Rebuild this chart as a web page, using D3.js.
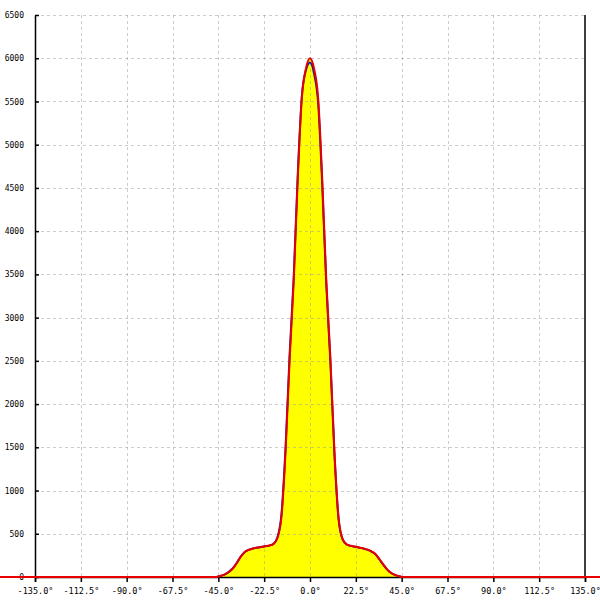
<!DOCTYPE html>
<html><head><meta charset="utf-8">
<script src="https://cdn.jsdelivr.net/npm/d3@7"></script>
<style>body{margin:0;background:#fff}svg{display:block}</style>
</head><body>
<svg id="c" width="600" height="600"></svg>
<script>
// angles (degrees)
const angles = [-180, -50, -48, -46, -44, -42, -40, -38, -36, -34, -32, -30, -28, -26, -24, -22, -20, -18, -16, -14, -12, -10, -8, -6, -4, -2, 0, 2, 4, 6, 8, 10, 12, 14, 16, 18, 20, 22, 24, 26, 28, 30, 32, 34, 36, 38, 40, 42, 44, 46, 48, 50, 180];
// measured series (red) and model series (blue)
const seriesRed = [0, 0, 0, 0, 12, 28, 55, 95, 160, 235, 290, 315, 330, 340, 348, 356, 364, 380, 450, 700, 1450, 2520, 3420, 4620, 5550, 5880, 6000, 5880, 5540, 4600, 3430, 2540, 1450, 690, 440, 378, 362, 352, 342, 332, 318, 298, 270, 210, 145, 85, 45, 22, 8, 0, 0, 0, 0];
const seriesBlue = [0, 0, 0, 0, 12, 28, 57, 98, 162, 236, 290, 314, 329, 339, 347, 355, 363, 382, 460, 730, 1500, 2580, 3470, 4660, 5560, 5860, 5950, 5820, 5480, 4540, 3380, 2490, 1420, 675, 435, 376, 360, 350, 340, 330, 316, 296, 266, 205, 140, 82, 43, 21, 7, 0, 0, 0, 0];
const xTicks = [-135, -112.5, -90, -67.5, -45, -22.5, 0, 22.5, 45, 67.5, 90, 112.5, 135];
const yTicks = [0, 500, 1000, 1500, 2000, 2500, 3000, 3500, 4000, 4500, 5000, 5500, 6000, 6500];

const svg = d3.select('#c');
const L = 35, R = 585, T = 15, B = 577;
const x = d3.scaleLinear().domain([-135, 135]).range([L, R]);
const y = d3.scaleLinear().domain([0, 6500]).range([B, T]);
const font = '"DejaVu Sans Mono", monospace';

const red = angles.map((a, i) => [a, seriesRed[i]]);
const blue = angles.map((a, i) => [a, seriesBlue[i]]);

const area = d3.area().x(d => x(d[0])).y0(y(0)).y1(d => y(d[1])).curve(d3.curveMonotoneX);
const line = d3.line().x(d => x(d[0])).y(d => y(d[1])).curve(d3.curveMonotoneX);

svg.append('path').datum(red).attr('d', area).attr('fill', '#ffff00');

// grid
const g = svg.append('g').attr('stroke', '#999').attr('stroke-opacity', 0.5).attr('stroke-dasharray', '3,3').attr('stroke-width', 1);
g.selectAll('.vx').data(xTicks.filter(t => t !== -135 && t !== 135)).join('line')
  .attr('x1', d => Math.round(x(d)) + 0.5).attr('x2', d => Math.round(x(d)) + 0.5)
  .attr('y1', T).attr('y2', B);
g.selectAll('.hy').data(yTicks.filter(t => t !== 0)).join('line')
  .attr('y1', d => Math.round(y(d)) + 0.5).attr('y2', d => Math.round(y(d)) + 0.5)
  .attr('x1', L).attr('x2', R);

// axes
const xAxis = d3.axisBottom(x).tickValues(xTicks).tickSize(5).tickPadding(6)
  .tickFormat(d => d.toFixed(1) + '\u00b0');
const xa = svg.append('g').attr('transform', `translate(0,${B})`).call(xAxis);
xa.select('.domain').attr('stroke', '#000').attr('stroke-width', 1.5);
xa.selectAll('.tick line').attr('stroke', '#000').attr('stroke-width', 1.5);
xa.selectAll('text').attr('font-family', font).attr('font-size', 8.5).attr('fill', '#000');

const yAxis = d3.axisLeft(y).tickValues(yTicks).tickSizeOuter(0).tickSizeInner(5).tickPadding(6)
  .tickFormat(d3.format('d'));
const ya = svg.append('g').attr('transform', `translate(${L},0)`).call(yAxis);
ya.select('.domain').attr('stroke', '#000').attr('stroke-width', 1.5);
ya.selectAll('.tick line').attr('stroke', '#000').attr('stroke-width', 1.5).attr('x2', 4);
ya.selectAll('text').attr('font-family', font).attr('font-size', 8).attr('fill', '#000');

// right axis line
svg.append('line').attr('x1', R).attr('x2', R).attr('y1', T).attr('y2', B)
  .attr('stroke', '#000').attr('stroke-width', 1.5);

// series lines
svg.append('path').datum(blue).attr('d', line).attr('fill', 'none').attr('stroke', '#1c1ca8').attr('stroke-width', 2);
svg.append('path').datum(red).attr('d', line).attr('fill', 'none').attr('stroke', '#e60000').attr('stroke-width', 2);
</script>
</body></html>
